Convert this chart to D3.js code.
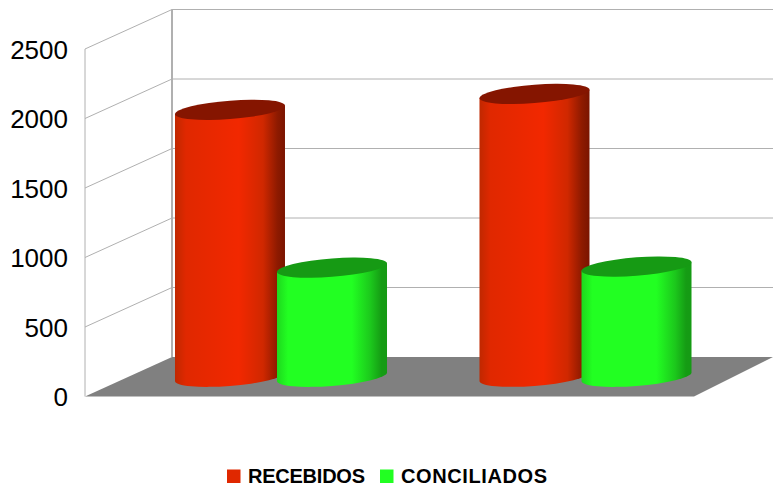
<!DOCTYPE html>
<html>
<head>
<meta charset="utf-8">
<script src="https://d3js.org/d3.v7.min.js"></script>
<style>
  body { margin: 0; background: #fff; }
  text { font-family: "Liberation Sans", Arial, sans-serif; }
</style>
</head>
<body>
<svg width="773" height="484"></svg>

<script>
  var categories = ['A', 'B'];
  var seriesNames = ['RECEBIDOS', 'CONCILIADOS'];
  var recebidos = [1920, 2035];
  var conciliados = [785, 793];
  var yTicks = [0, 500, 1000, 1500, 2000, 2500];

  var svg = d3.select('svg');
  var defs = svg.append('defs');

  // front plane of the 3d box, the back wall is this shifted by depth
  var y = d3.scaleLinear().domain([0, 2500]).range([396.5, 49]);
  var x0 = d3.scaleBand().domain(categories).range([85, 694]);
  var x1 = d3.scaleBand().domain(seriesNames).range([90, 302]).paddingInner(-0.078);
  var depthX = 87, depthY = 39.5;
  var rightEdge = 773;

  var barRx = 55, barRy = 9.2, skew = -0.077;

  var colors = {
    RECEBIDOS: { top: '#851500', legend: '#e02800',
      stops: [[0, '#c02800'], [0.1, '#e02800'], [0.58, '#f22800'], [0.8, '#d02800'], [0.93, '#8e1a00'], [1, '#7a1400']] },
    CONCILIADOS: { top: '#169a14', legend: '#22ff22',
      stops: [[0, '#1ed81e'], [0.1, '#22ff22'], [0.68, '#22ff22'], [0.85, '#1cc81c'], [0.95, '#159c14'], [1, '#159a14']] }
  };

  seriesNames.forEach(function(name) {
    var grad = defs.append('linearGradient').attr('id', 'grad' + name);
    colors[name].stops.forEach(function(s) {
      grad.append('stop').attr('offset', s[0]).attr('stop-color', s[1]);
    });
  });

  // floor
  svg.append('polygon')
    .attr('fill', '#808080')
    .attr('points', [
      [85, y(0)], [85 + depthX, y(0) - depthY],
      [rightEdge, y(0) - depthY], [x0.range()[1], y(0)]
    ].join(' '));

  // gridlines on back wall and side wall
  var grid = svg.append('g').attr('stroke', '#b0b0b0').attr('fill', 'none');
  yTicks.forEach(function(t) {
    if (t > 0) {
      grid.append('line')
        .attr('x1', 85 + depthX).attr('x2', rightEdge)
        .attr('y1', y(t) - depthY).attr('y2', y(t) - depthY);
      grid.append('line')
        .attr('x1', 85).attr('x2', 85 + depthX)
        .attr('y1', y(t)).attr('y2', y(t) - depthY);
    }
  });
  grid.append('line')
    .attr('x1', 85).attr('x2', 85)
    .attr('y1', y(2500)).attr('y2', y(0));
  grid.append('line')
    .attr('x1', 85 + depthX).attr('x2', 85 + depthX)
    .attr('stroke-width', 2)
    .attr('y1', y(2500) - depthY).attr('y2', y(0) - depthY);

  // y axis
  var axis = svg.append('g')
    .attr('transform', 'translate(68,1)')
    .call(d3.axisLeft(y).tickValues(yTicks).tickFormat(d3.format('d')).tickSize(0).tickPadding(0));
  axis.select('.domain').remove();
  axis.selectAll('text')
    .attr('font-family', '"Liberation Sans", Arial, sans-serif')
    .attr('font-size', 26)
    .attr('fill', '#000');

  // cylinders, sheared so the ellipses tilt upward to the right
  function drawBars(name, values) {
    var bars = svg.append('g').selectAll('.bar-' + name)
      .data(values)
      .enter()
      .append('g')
      .attr('class', 'bar-' + name)
      .attr('transform', function(d, i) {
        var cx = x0(categories[i]) + x1(name) + x1.bandwidth() / 2;
        return 'matrix(1,' + skew + ',0,1,' + cx + ',' + (y(d) - depthY / 2) + ')';
      });

    bars.append('path')
      .attr('fill', 'url(#grad' + name + ')')
      .attr('d', function(d) {
        var h = y(0) - y(d);
        return 'M' + (-barRx) + ',0 L' + (-barRx) + ',' + h +
          ' A' + barRx + ',' + barRy + ' 0 0 0 ' + barRx + ',' + h +
          ' L' + barRx + ',0 Z';
      });

    bars.append('ellipse')
      .attr('rx', barRx)
      .attr('ry', barRy)
      .attr('fill', colors[name].top);
  }

  drawBars('RECEBIDOS', recebidos);
  drawBars('CONCILIADOS', conciliados);

  // legend
  var legendX = { RECEBIDOS: 227, CONCILIADOS: 380 };
  var legendWidth = { RECEBIDOS: 117, CONCILIADOS: 146 };
  var legend = svg.append('g').selectAll('.legend')
    .data(seriesNames)
    .enter()
    .append('g')
    .attr('class', 'legend')
    .attr('transform', function(d) { return 'translate(' + legendX[d] + ',469.5)'; });

  legend.append('rect')
    .attr('width', 13.5)
    .attr('height', 13.5)
    .attr('fill', function(d) { return colors[d].legend; });

  legend.append('text')
    .attr('x', 21)
    .attr('y', 13)
    .attr('font-size', 20)
    .attr('font-weight', 'bold')
    .attr('fill', '#000')
    .attr('textLength', function(d) { return legendWidth[d]; })
    .text(function(d) { return d; });
</script>
</body>
</html>
